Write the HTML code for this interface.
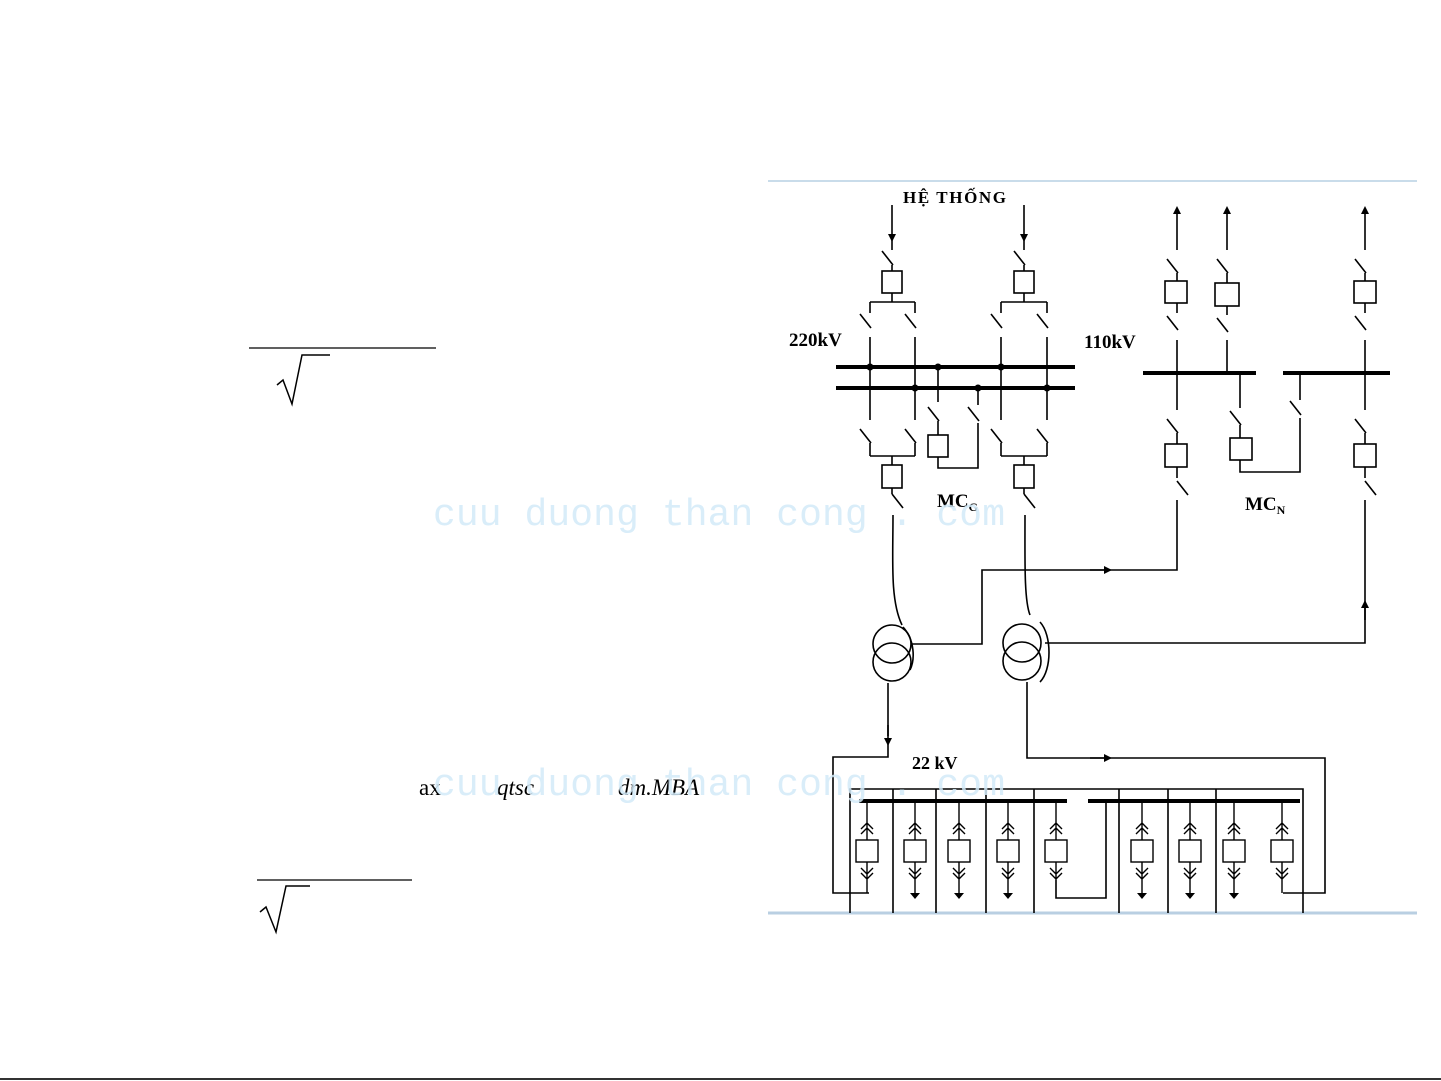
<!DOCTYPE html>
<html><head><meta charset="utf-8"><style>
html,body{margin:0;padding:0;background:#fff;}
body{width:1441px;height:1081px;overflow:hidden;position:relative;}
svg{position:absolute;left:0;top:0;}
</style></head><body>
<svg width="1441" height="1081" viewBox="0 0 1441 1081" xmlns="http://www.w3.org/2000/svg">
<defs>
<marker id="ar" markerWidth="8" markerHeight="8" refX="4" refY="4" orient="auto" markerUnits="userSpaceOnUse"><path d="M0,0 L8,4 L0,8 z" fill="#000"/></marker>
<g id="sw"><line x1="-10" y1="-9" x2="1" y2="5" stroke="#000" stroke-width="1.6"/></g>
<g id="f"><path d="M0,801 V840 M-6,829 L0,823 L6,829 M-6,834 L0,828 L6,834 M0,862 V880 M-6,868 L0,874 L6,868 M-6,873 L0,879 L6,873"/><rect x="-11" y="840" width="22" height="22"/></g>
</defs>
<line x1="768" y1="181" x2="1417" y2="181" stroke="#c9dcea" stroke-width="2"/>
<line x1="768" y1="913" x2="1417" y2="913" stroke="#b9cfe2" stroke-width="3"/>
<line x1="0" y1="1079" x2="1441" y2="1079" stroke="#333" stroke-width="2"/>

<line x1="249" y1="348" x2="436" y2="348" stroke="#000" stroke-width="1.2"/>
<path d="M277,385 L283,380 L292,404 L302,355 L330,355" fill="none" stroke="#000" stroke-width="1.5"/>
<line x1="257" y1="880" x2="412" y2="880" stroke="#000" stroke-width="1.2"/>
<path d="M260,912 L266,907 L276,932 L286,886 L310,886" fill="none" stroke="#000" stroke-width="1.5"/>
<text x="419" y="795" font-family="Liberation Serif" font-size="23">ax</text>
<text x="497" y="795" font-family="Liberation Serif" font-style="italic" font-size="23">qtsc</text>
<text x="618" y="795" font-family="Liberation Serif" font-style="italic" font-size="23">dm.MBA</text>

<g stroke="#000" stroke-width="1.6" fill="none">
<line x1="892" y1="205" x2="892" y2="238" marker-end="url(#ar)"/>
<line x1="892" y1="240" x2="892" y2="250"/>
<use href="#sw" x="892" y="260"/>
<path d="M892,265 V271"/><rect x="882" y="271" width="20" height="22"/>
<path d="M892,293 V302 M870,302 H915 M870,302 V313 M915,302 V313"/>
<use href="#sw" x="870" y="323"/><use href="#sw" x="915" y="323"/>
<path d="M870,337 V420 M915,337 V420"/>
<use href="#sw" x="870" y="438"/><use href="#sw" x="915" y="438"/>
<path d="M870,443 V456 M915,443 V456 M870,456 H915 M892,456 V465"/>
<rect x="882" y="465" width="20" height="23"/>
<path d="M892,488 V494"/><use href="#sw" x="902" y="503"/>
<path d="M893,515 C893,560 890,600 902,625"/>
<line x1="1024" y1="205" x2="1024" y2="238" marker-end="url(#ar)"/>
<line x1="1024" y1="240" x2="1024" y2="250"/>
<use href="#sw" x="1024" y="260"/>
<path d="M1024,265 V271"/><rect x="1014" y="271" width="20" height="22"/>
<path d="M1024,293 V302 M1001,302 H1047 M1001,302 V313 M1047,302 V313"/>
<use href="#sw" x="1001" y="323"/><use href="#sw" x="1047" y="323"/>
<path d="M1001,337 V420 M1047,337 V420"/>
<use href="#sw" x="1001" y="438"/><use href="#sw" x="1047" y="438"/>
<path d="M1001,443 V456 M1047,443 V456 M1001,456 H1047 M1024,456 V465"/>
<rect x="1014" y="465" width="20" height="23"/>
<path d="M1024,488 V494"/><use href="#sw" x="1034" y="503"/>
<path d="M1025,515 C1025,560 1024,600 1030,615"/>
<path d="M938,367 V402"/><use href="#sw" x="938" y="416"/>
<path d="M938,421 V435"/><rect x="928" y="435" width="20" height="22"/>
<path d="M938,457 V468 H978 V423 M978,388 V405"/><use href="#sw" x="978" y="416"/>

<line x1="1177" y1="250" x2="1177" y2="210" marker-end="url(#ar)"/>
<use href="#sw" x="1177" y="268"/><path d="M1177,273 V281"/><rect x="1165" y="281" width="22" height="22"/>
<path d="M1177,303 V313"/><use href="#sw" x="1177" y="325"/><path d="M1177,340 V410"/>
<use href="#sw" x="1177" y="428"/><path d="M1177,433 V444"/><rect x="1165" y="444" width="22" height="23"/>
<path d="M1177,467 V478"/><use href="#sw" x="1187" y="490"/><path d="M1177,500 V570 H982 V644 H912"/>
<line x1="1090" y1="570" x2="1108" y2="570" marker-end="url(#ar)"/>
<line x1="1227" y1="250" x2="1227" y2="210" marker-end="url(#ar)"/>
<use href="#sw" x="1227" y="268"/><path d="M1227,273 V283"/><rect x="1215" y="283" width="24" height="23"/>
<path d="M1227,306 V315"/><use href="#sw" x="1227" y="327"/><path d="M1227,340 V373"/>
<line x1="1365" y1="250" x2="1365" y2="210" marker-end="url(#ar)"/>
<use href="#sw" x="1365" y="268"/><path d="M1365,273 V281"/><rect x="1354" y="281" width="22" height="22"/>
<path d="M1365,303 V313"/><use href="#sw" x="1365" y="325"/><path d="M1365,340 V410"/>
<use href="#sw" x="1365" y="428"/><path d="M1365,433 V444"/><rect x="1354" y="444" width="22" height="23"/>
<path d="M1365,467 V478"/><use href="#sw" x="1375" y="490"/><path d="M1365,500 V643 H1045"/>
<line x1="1365" y1="620" x2="1365" y2="604" marker-end="url(#ar)"/>
<path d="M1240,373 V408"/><use href="#sw" x="1240" y="420"/><path d="M1240,425 V438"/>
<rect x="1230" y="438" width="22" height="22"/>
<path d="M1240,460 V472 H1300 V418 M1300,373 V400"/><use href="#sw" x="1300" y="410"/>

<circle cx="892" cy="644" r="19"/><circle cx="892" cy="662" r="19"/>
<circle cx="1022" cy="643" r="19"/><circle cx="1022" cy="661" r="19"/>
<path d="M1040,622 C1052,635 1052,670 1040,682"/>
<path d="M903,627 C915,640 915,660 910,670"/>
<path d="M888,683 V736"/><line x1="888" y1="725" x2="888" y2="742" marker-end="url(#ar)"/>
<path d="M888,742 V757 H833 V893 H869"/>
<path d="M1027,682 V758 H1325 V893 H1283"/>
<line x1="1090" y1="758" x2="1108" y2="758" marker-end="url(#ar)"/>

<path d="M850,913 V789 H1303 V913"/>
<path d="M893,789 V913 M936,789 V913 M986,789 V913 M1034,789 V913 M1119,789 V913 M1168,789 V913 M1216,789 V913"/>
<path d="M1056,880 V898 H1106 V801"/>
</g>

<g stroke="#000" stroke-width="4">
<line x1="836" y1="367" x2="1075" y2="367"/><line x1="836" y1="388" x2="1075" y2="388"/>
<line x1="1143" y1="373" x2="1256" y2="373"/><line x1="1283" y1="373" x2="1390" y2="373"/>
<line x1="859" y1="801" x2="1067" y2="801"/><line x1="1088" y1="801" x2="1300" y2="801"/>
</g>
<g fill="#000">
<circle cx="870" cy="367" r="3.5"/><circle cx="938" cy="367" r="3.5"/><circle cx="1001" cy="367" r="3.5"/>
<circle cx="915" cy="388" r="3.5"/><circle cx="978" cy="388" r="3.5"/><circle cx="1047" cy="388" r="3.5"/>
</g>

<g stroke="#000" stroke-width="1.4" fill="none">
<use href="#f" x="867"/><use href="#f" x="915"/><use href="#f" x="959"/><use href="#f" x="1008"/><use href="#f" x="1056"/>
<use href="#f" x="1142"/><use href="#f" x="1190"/><use href="#f" x="1234"/><use href="#f" x="1282"/>
<path d="M867,880 V893 M915,880 V893 M959,880 V893 M1008,880 V893 M1142,880 V893 M1190,880 V893 M1234,880 V893 M1282,880 V893"/>
</g>
<g fill="#000">
<path d="M910,893 h10 l-5,6z"/><path d="M954,893 h10 l-5,6z"/><path d="M1003,893 h10 l-5,6z"/>
<path d="M1137,893 h10 l-5,6z"/><path d="M1185,893 h10 l-5,6z"/><path d="M1229,893 h10 l-5,6z"/>
</g>

<g font-family="Liberation Serif" font-weight="bold" fill="#000">
<text x="903" y="203" font-size="17" textLength="103">HỆ THỐNG</text>
<text x="789" y="346" font-size="19">220kV</text>
<text x="1084" y="348" font-size="19">110kV</text>
<text x="912" y="769" font-size="18">22 kV</text>
<text x="937" y="507" font-size="19">MC<tspan font-size="12" dy="4">G</tspan></text>
<text x="1245" y="510" font-size="19">MC<tspan font-size="12" dy="4">N</tspan></text>
</g>

<g font-family="Liberation Mono" font-size="38" fill="#d3eaf8" opacity="0.85">
<text x="433" y="525" textLength="572">cuu duong than cong . com</text>
<text x="433" y="795" textLength="572">cuu duong than cong . com</text>
</g>
</svg>
</body></html>
